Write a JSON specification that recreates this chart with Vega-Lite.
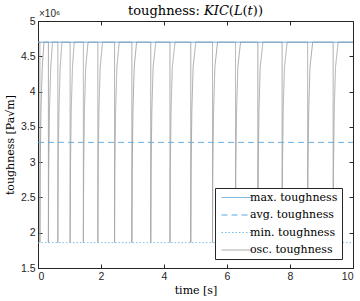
{
  "$schema": "https://vega.github.io/schema/vega-lite/v6.json",
  "width": 315,
  "height": 247,
  "autosize": {"type": "none"},
  "padding": {"left": 38, "top": 21, "right": 7, "bottom": 33},
  "background": "white",
  "title": {"text": "toughness: 𝐾𝐼𝐶(𝐿(𝑡))", "font": "DejaVu Serif", "fontSize": 13, "fontWeight": "normal", "color": "#000000", "offset": -9, "anchor": "middle"},
  "data": {"values": [
    {"s": "osc. toughness", "t": 0, "k": 4700000},
    {"s": "osc. toughness", "t": 0.06, "k": 4700000},
    {"s": "osc. toughness", "t": 0.06, "k": 1860000},
    {"s": "osc. toughness", "t": 0.07, "k": 2900000},
    {"s": "osc. toughness", "t": 0.095, "k": 3750000},
    {"s": "osc. toughness", "t": 0.135, "k": 4350000},
    {"s": "osc. toughness", "t": 0.19, "k": 4700000},
    {"s": "osc. toughness", "t": 0.33, "k": 4700000},
    {"s": "osc. toughness", "t": 0.33, "k": 1860000},
    {"s": "osc. toughness", "t": 0.34, "k": 2900000},
    {"s": "osc. toughness", "t": 0.365, "k": 3750000},
    {"s": "osc. toughness", "t": 0.405, "k": 4350000},
    {"s": "osc. toughness", "t": 0.46, "k": 4700000},
    {"s": "osc. toughness", "t": 0.63, "k": 4700000},
    {"s": "osc. toughness", "t": 0.63, "k": 1860000},
    {"s": "osc. toughness", "t": 0.64, "k": 2900000},
    {"s": "osc. toughness", "t": 0.665, "k": 3750000},
    {"s": "osc. toughness", "t": 0.705, "k": 4350000},
    {"s": "osc. toughness", "t": 0.76, "k": 4700000},
    {"s": "osc. toughness", "t": 1.02, "k": 4700000},
    {"s": "osc. toughness", "t": 1.02, "k": 1860000},
    {"s": "osc. toughness", "t": 1.03, "k": 2900000},
    {"s": "osc. toughness", "t": 1.055, "k": 3750000},
    {"s": "osc. toughness", "t": 1.095, "k": 4350000},
    {"s": "osc. toughness", "t": 1.15, "k": 4700000},
    {"s": "osc. toughness", "t": 1.44, "k": 4700000},
    {"s": "osc. toughness", "t": 1.44, "k": 1860000},
    {"s": "osc. toughness", "t": 1.45, "k": 2900000},
    {"s": "osc. toughness", "t": 1.475, "k": 3750000},
    {"s": "osc. toughness", "t": 1.515, "k": 4350000},
    {"s": "osc. toughness", "t": 1.59, "k": 4700000},
    {"s": "osc. toughness", "t": 1.9, "k": 4700000},
    {"s": "osc. toughness", "t": 1.9, "k": 1860000},
    {"s": "osc. toughness", "t": 1.91, "k": 2900000},
    {"s": "osc. toughness", "t": 1.935, "k": 3750000},
    {"s": "osc. toughness", "t": 1.975, "k": 4350000},
    {"s": "osc. toughness", "t": 2.05, "k": 4700000},
    {"s": "osc. toughness", "t": 2.43, "k": 4700000},
    {"s": "osc. toughness", "t": 2.43, "k": 1860000},
    {"s": "osc. toughness", "t": 2.44, "k": 2900000},
    {"s": "osc. toughness", "t": 2.465, "k": 3750000},
    {"s": "osc. toughness", "t": 2.505, "k": 4350000},
    {"s": "osc. toughness", "t": 2.58, "k": 4700000},
    {"s": "osc. toughness", "t": 2.98, "k": 4700000},
    {"s": "osc. toughness", "t": 2.98, "k": 1860000},
    {"s": "osc. toughness", "t": 2.99, "k": 2900000},
    {"s": "osc. toughness", "t": 3.015, "k": 3750000},
    {"s": "osc. toughness", "t": 3.055, "k": 4350000},
    {"s": "osc. toughness", "t": 3.13, "k": 4700000},
    {"s": "osc. toughness", "t": 3.58, "k": 4700000},
    {"s": "osc. toughness", "t": 3.58, "k": 1860000},
    {"s": "osc. toughness", "t": 3.59, "k": 2900000},
    {"s": "osc. toughness", "t": 3.615, "k": 3750000},
    {"s": "osc. toughness", "t": 3.655, "k": 4350000},
    {"s": "osc. toughness", "t": 3.74, "k": 4700000},
    {"s": "osc. toughness", "t": 4.19, "k": 4700000},
    {"s": "osc. toughness", "t": 4.19, "k": 1860000},
    {"s": "osc. toughness", "t": 4.2, "k": 2900000},
    {"s": "osc. toughness", "t": 4.225, "k": 3750000},
    {"s": "osc. toughness", "t": 4.265, "k": 4350000},
    {"s": "osc. toughness", "t": 4.35, "k": 4700000},
    {"s": "osc. toughness", "t": 4.85, "k": 4700000},
    {"s": "osc. toughness", "t": 4.85, "k": 1860000},
    {"s": "osc. toughness", "t": 4.86, "k": 2900000},
    {"s": "osc. toughness", "t": 4.885, "k": 3750000},
    {"s": "osc. toughness", "t": 4.925, "k": 4350000},
    {"s": "osc. toughness", "t": 5.01, "k": 4700000},
    {"s": "osc. toughness", "t": 5.54, "k": 4700000},
    {"s": "osc. toughness", "t": 5.54, "k": 1860000},
    {"s": "osc. toughness", "t": 5.55, "k": 2900000},
    {"s": "osc. toughness", "t": 5.575, "k": 3750000},
    {"s": "osc. toughness", "t": 5.615, "k": 4350000},
    {"s": "osc. toughness", "t": 5.7, "k": 4700000},
    {"s": "osc. toughness", "t": 6.27, "k": 4700000},
    {"s": "osc. toughness", "t": 6.27, "k": 1860000},
    {"s": "osc. toughness", "t": 6.28, "k": 2900000},
    {"s": "osc. toughness", "t": 6.305, "k": 3750000},
    {"s": "osc. toughness", "t": 6.345, "k": 4350000},
    {"s": "osc. toughness", "t": 6.43, "k": 4700000},
    {"s": "osc. toughness", "t": 6.98, "k": 4700000},
    {"s": "osc. toughness", "t": 6.98, "k": 1860000},
    {"s": "osc. toughness", "t": 6.99, "k": 2900000},
    {"s": "osc. toughness", "t": 7.015, "k": 3750000},
    {"s": "osc. toughness", "t": 7.055, "k": 4350000},
    {"s": "osc. toughness", "t": 7.14, "k": 4700000},
    {"s": "osc. toughness", "t": 7.75, "k": 4700000},
    {"s": "osc. toughness", "t": 7.75, "k": 1860000},
    {"s": "osc. toughness", "t": 7.76, "k": 2900000},
    {"s": "osc. toughness", "t": 7.785, "k": 3750000},
    {"s": "osc. toughness", "t": 7.825, "k": 4350000},
    {"s": "osc. toughness", "t": 7.91, "k": 4700000},
    {"s": "osc. toughness", "t": 8.56, "k": 4700000},
    {"s": "osc. toughness", "t": 8.56, "k": 1860000},
    {"s": "osc. toughness", "t": 8.57, "k": 2900000},
    {"s": "osc. toughness", "t": 8.595, "k": 3750000},
    {"s": "osc. toughness", "t": 8.635, "k": 4350000},
    {"s": "osc. toughness", "t": 8.72, "k": 4700000},
    {"s": "osc. toughness", "t": 9.37, "k": 4700000},
    {"s": "osc. toughness", "t": 9.37, "k": 1860000},
    {"s": "osc. toughness", "t": 9.38, "k": 2900000},
    {"s": "osc. toughness", "t": 9.405, "k": 3750000},
    {"s": "osc. toughness", "t": 9.445, "k": 4350000},
    {"s": "osc. toughness", "t": 9.53, "k": 4700000},
    {"s": "osc. toughness", "t": 10, "k": 4700000},
    {"s": "max. toughness", "t": 0, "k": 4700000},
    {"s": "max. toughness", "t": 10, "k": 4700000},
    {"s": "avg. toughness", "t": 0, "k": 3280000},
    {"s": "avg. toughness", "t": 10, "k": 3280000},
    {"s": "min. toughness", "t": 0, "k": 1860000},
    {"s": "min. toughness", "t": 10, "k": 1860000}
  ]},
  "layer": [
    {
      "mark": {"type": "line", "strokeWidth": 0.9, "clip": true},
      "encoding": {
        "x": {"field": "t", "type": "quantitative", "scale": {"domain": [0, 10], "nice": false, "zero": false},
              "axis": {"orient": "bottom", "values": [0, 2, 4, 6, 8, 10], "title": "time [s]", "titlePadding": 3}},
        "y": {"field": "k", "type": "quantitative", "scale": {"domain": [1500000, 5000000], "nice": false, "zero": false},
              "axis": {"orient": "left", "values": [1500000, 2000000, 2500000, 3000000, 3500000, 4000000, 4500000, 5000000],
                       "labelExpr": "format(datum.value/1000000, '~g')", "title": "toughness [Pa√m]", "titlePadding": 5}},
        "color": {"field": "s", "type": "nominal",
                  "scale": {"domain": ["max. toughness", "avg. toughness", "min. toughness", "osc. toughness"],
                            "range": ["#5b9fd3", "#5aa8dd", "#74b8e6", "#a0a0a0"]},
                  "legend": {"title": null}},
        "strokeDash": {"field": "s", "type": "nominal",
                       "scale": {"domain": ["max. toughness", "avg. toughness", "min. toughness", "osc. toughness"],
                                 "range": [[1, 0], [6, 4], [1.5, 2], [1, 0]]},
                       "legend": {"title": null}},
        "order": {"value": null}
      }
    },
    {
      "mark": {"type": "point", "opacity": 0},
      "encoding": {
        "x": {"field": "t", "type": "quantitative", "scale": {"domain": [0, 10], "nice": false, "zero": false},
              "axis": {"orient": "top", "values": [0, 2, 4, 6, 8, 10], "labels": false, "title": null, "domain": false}},
        "y": {"field": "k", "type": "quantitative", "scale": {"domain": [1500000, 5000000], "nice": false, "zero": false},
              "axis": {"orient": "right", "values": [1500000, 2000000, 2500000, 3000000, 3500000, 4000000, 4500000, 5000000], "labels": false, "title": null, "domain": false}}
      }
    },
    {
      "data": {"values": [{"t": 0, "k": 5000000, "lab": "×10⁶"}]},
      "mark": {"type": "text", "align": "left", "baseline": "bottom", "dx": 1, "dy": -2, "font": "Liberation Sans", "fontSize": 10, "color": "#262626", "clip": false},
      "encoding": {
        "x": {"field": "t", "type": "quantitative", "scale": {"domain": [0, 10]}, "axis": null},
        "y": {"field": "k", "type": "quantitative", "scale": {"domain": [1500000, 5000000]}, "axis": null},
        "text": {"field": "lab"}
      }
    }
  ],
  "resolve": {"scale": {"x": "independent", "y": "independent"}, "axis": {"x": "independent", "y": "independent"}},
  "config": {
    "view": {"stroke": "#262626", "strokeWidth": 1},
    "axis": {"grid": false, "domainColor": "#262626", "tickColor": "#262626", "labelColor": "#262626",
             "labelFont": "Liberation Sans", "labelFontSize": 10.5, "tickSize": -4, "labelPadding": 7,
             "titleFont": "DejaVu Serif", "titleFontSize": 11, "titleFontWeight": "normal", "titleColor": "#000000"},
    "legend": {"orient": "none", "legendX": 177, "legendY": 167, "fillColor": "white", "strokeColor": "#262626",
               "padding": 4, "labelFont": "DejaVu Serif", "labelFontSize": 11, "labelColor": "#000000",
               "symbolType": "M-5,0H5", "symbolSize": 36, "symbolStrokeWidth": 1, "symbolOffset": 12, "labelOffset": 8, "rowPadding": 5.5}
  }
}
